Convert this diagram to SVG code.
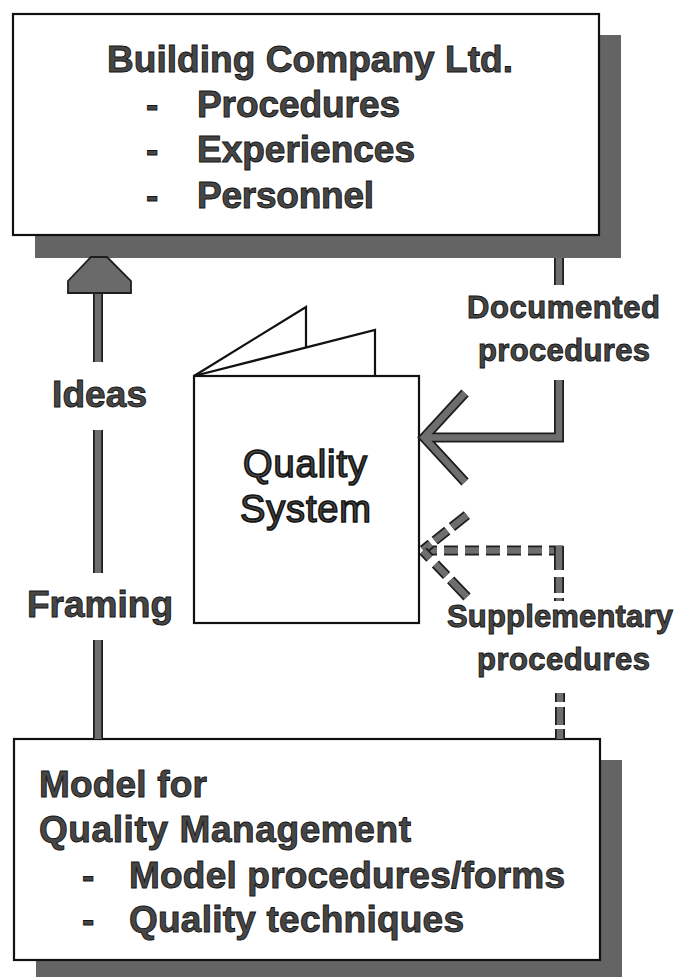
<svg xmlns="http://www.w3.org/2000/svg" width="692" height="978" viewBox="0 0 692 978">
<style>
.bg{fill:#ffffff}
.shadow{fill:#646464}
.box{fill:#ffffff;stroke:#111111;stroke-width:2.2}
.book{fill:#ffffff;stroke:#111111;stroke-width:2.2;stroke-linejoin:miter}
.t{font-family:"Liberation Sans",Arial,Helvetica,sans-serif;font-weight:bold;fill:#464646;stroke:#141414;stroke-width:0.9}
.big{font-size:37px}
.small{font-size:31px}
.reg{font-family:"Liberation Sans",Arial,Helvetica,sans-serif;font-weight:normal;font-size:38px;fill:#464646;stroke:#141414;stroke-width:1.6}
.lo{fill:none;stroke:#1e1e1e;stroke-width:10;stroke-linecap:butt;stroke-linejoin:miter}
.li{fill:none;stroke:#6e6e6e;stroke-width:6.5;stroke-linecap:butt;stroke-linejoin:miter}
.head{fill:#6a6a6a;stroke:#1e1e1e;stroke-width:1.8;stroke-linejoin:miter}
</style>
<rect class="bg" x="0" y="0" width="692" height="978"/>

<g id="node-building-company">
  <rect class="shadow" x="35" y="35" width="586" height="223"/>
  <rect class="box" x="13" y="14" width="586" height="221"/>
  <text class="t big" x="107" y="72" textLength="406" lengthAdjust="spacing">Building Company Ltd.</text>
  <text class="t big" x="146" y="117">-</text>
  <text class="t big" x="197" y="117" textLength="203" lengthAdjust="spacing">Procedures</text>
  <text class="t big" x="146" y="162">-</text>
  <text class="t big" x="197" y="162" textLength="218" lengthAdjust="spacing">Experiences</text>
  <text class="t big" x="146" y="208">-</text>
  <text class="t big" x="197" y="208" textLength="177" lengthAdjust="spacing">Personnel</text>
</g>

<g id="node-quality-system">
  <path class="book" d="M194,376 L306,307 L306,348"/>
  <path class="book" d="M194,376 L375,330 L375,376"/>
  <rect class="book" x="194" y="376" width="225" height="247"/>
  <text class="reg" x="243" y="477" textLength="124" lengthAdjust="spacing">Quality</text>
  <text class="reg" x="240" y="522" textLength="131" lengthAdjust="spacing">System</text>
</g>

<g id="node-model">
  <rect class="shadow" x="36" y="760" width="586" height="217"/>
  <rect class="box" x="14" y="739" width="586" height="221"/>
  <text class="t big" x="39" y="797" textLength="168" lengthAdjust="spacing">Model for</text>
  <text class="t big" x="39" y="842" textLength="372" lengthAdjust="spacing">Quality Management</text>
  <text class="t big" x="82" y="888">-</text>
  <text class="t big" x="129" y="888" textLength="436" lengthAdjust="spacing">Model procedures/forms</text>
  <text class="t big" x="82" y="932">-</text>
  <text class="t big" x="129" y="932" textLength="335" lengthAdjust="spacing">Quality techniques</text>
</g>

<g id="connectors">
  <g id="conn-ideas-framing">
    <path class="lo" d="M98,292 V362 M98,430 V573 M98,640 V739"/>
    <path class="li" d="M98,292 V362 M98,430 V573 M98,640 V739"/>
    <polygon class="head" points="91,257 107,257 131,281 131,293 68,293 68,281"/>
  </g>
  <g id="conn-documented">
    <path class="lo" d="M559,258 V285 M559,380 V437.5 H424 M465,393 L424,437.5 L465,482"/>
    <path class="li" d="M559,258 V285 M559,380 V437.5 H424 M465,393 L424,437.5 L465,482"/>
  </g>
  <g id="conn-supplementary">
    <path class="lo" d="M423,550.5 H563" stroke-dasharray="14 7"/>
    <path class="li" d="M423,550.5 H563" stroke-dasharray="14 7"/>
    <path class="lo" d="M559,546 V601" stroke-dasharray="24 7 16 5 3 20"/>
    <path class="li" d="M559,546 V601" stroke-dasharray="24 7 16 5 3 20"/>
    <path class="lo" d="M423,550 L467,515" stroke-dasharray="10 5 16 6 19"/>
    <path class="li" d="M423,550 L467,515" stroke-dasharray="10 5 16 6 19"/>
    <path class="lo" d="M423,551 L467,597" stroke-dasharray="10 8 16 6 24"/>
    <path class="li" d="M423,551 L467,597" stroke-dasharray="10 8 16 6 24"/>
    <path class="lo" d="M560,693 V739" stroke-dasharray="9 5 18 4 10"/>
    <path class="li" d="M560,693 V739" stroke-dasharray="9 5 18 4 10"/>
  </g>
</g>

<g id="labels">
  <text class="t big" x="52" y="407" textLength="95" lengthAdjust="spacing">Ideas</text>
  <text class="t big" x="27" y="617" textLength="146" lengthAdjust="spacing">Framing</text>
  <text class="t small" x="467" y="318" textLength="193" lengthAdjust="spacing">Documented</text>
  <text class="t small" x="478" y="361" textLength="172" lengthAdjust="spacing">procedures</text>
  <text class="t small" x="447" y="627" textLength="226" lengthAdjust="spacing">Supplementary</text>
  <text class="t small" x="477" y="670" textLength="173" lengthAdjust="spacing">procedures</text>
</g>
</svg>
